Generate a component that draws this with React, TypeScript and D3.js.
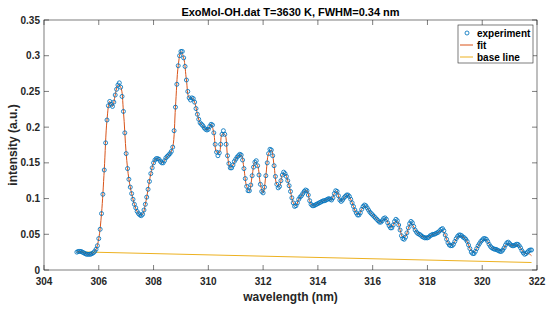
import React, { useEffect, useRef } from 'react';
import * as d3 from 'd3';

// experiment: 0.05 nm steps from 305.2 to 321.8 nm
const expStart = 305.2;
const expStep = 0.05;
const experiment = [
  0.025, 0.026, 0.026, 0.026, 0.025, 0.024, 0.023, 0.022, 0.022, 0.022,
  0.022, 0.023, 0.024, 0.026, 0.029, 0.034, 0.044, 0.057, 0.079, 0.106,
  0.140, 0.178, 0.210, 0.230, 0.236, 0.232, 0.229, 0.235, 0.245, 0.253,
  0.259, 0.262, 0.256, 0.243, 0.222, 0.192, 0.163, 0.142, 0.127, 0.116,
  0.107, 0.099, 0.092, 0.087, 0.082, 0.079, 0.077, 0.076, 0.078, 0.084,
  0.092, 0.102, 0.113, 0.124, 0.135, 0.143, 0.150, 0.154, 0.156, 0.156,
  0.155, 0.152, 0.150, 0.150, 0.153, 0.157, 0.159, 0.161, 0.163, 0.166,
  0.172, 0.195, 0.228, 0.260, 0.286, 0.300, 0.306, 0.306, 0.297, 0.285,
  0.266, 0.250, 0.241, 0.238, 0.241, 0.240, 0.235, 0.226, 0.218, 0.211,
  0.206, 0.204, 0.202, 0.199, 0.197, 0.196, 0.197, 0.201, 0.204, 0.203,
  0.192, 0.176, 0.165, 0.160, 0.164, 0.176, 0.190, 0.195, 0.190, 0.176,
  0.160, 0.149, 0.143, 0.143, 0.147, 0.152, 0.155, 0.158, 0.160, 0.162,
  0.161, 0.154, 0.142, 0.128, 0.117, 0.111, 0.111, 0.119, 0.132, 0.144,
  0.151, 0.153, 0.146, 0.133, 0.120, 0.110, 0.108, 0.116, 0.132, 0.150,
  0.163, 0.169, 0.168, 0.160, 0.146, 0.131, 0.120, 0.115, 0.117, 0.125,
  0.133, 0.137, 0.135, 0.131, 0.125, 0.118, 0.110, 0.101, 0.094, 0.089,
  0.090, 0.094, 0.099, 0.102, 0.104, 0.107, 0.110, 0.112, 0.111, 0.105,
  0.097, 0.092, 0.090, 0.090, 0.091, 0.092, 0.093, 0.094, 0.095, 0.096,
  0.097, 0.097, 0.098, 0.099, 0.100, 0.099, 0.098, 0.101, 0.107, 0.111,
  0.110, 0.104, 0.098, 0.096, 0.098, 0.101, 0.103, 0.105, 0.105, 0.103,
  0.099, 0.094, 0.089, 0.084, 0.080, 0.077, 0.077, 0.080, 0.085, 0.089,
  0.091, 0.090, 0.087, 0.084, 0.081, 0.079, 0.077, 0.075, 0.073, 0.071,
  0.069, 0.067, 0.067, 0.069, 0.072, 0.073, 0.071, 0.066, 0.062, 0.059,
  0.059, 0.063, 0.068, 0.071, 0.069, 0.063, 0.056, 0.048, 0.044, 0.043,
  0.046, 0.052, 0.059, 0.065, 0.068, 0.066, 0.061, 0.056, 0.053, 0.051,
  0.050, 0.049, 0.047, 0.046, 0.045, 0.045, 0.045, 0.046, 0.048, 0.049,
  0.050, 0.050, 0.051, 0.052, 0.053, 0.055, 0.057, 0.058, 0.055, 0.049,
  0.043, 0.038, 0.035, 0.034, 0.034, 0.036, 0.040, 0.044, 0.047, 0.049,
  0.049, 0.048, 0.046, 0.045, 0.043, 0.040, 0.035, 0.030, 0.025, 0.023,
  0.023, 0.026, 0.030, 0.034, 0.037, 0.040, 0.042, 0.044, 0.044, 0.043,
  0.040, 0.036, 0.033, 0.031, 0.030, 0.029, 0.029, 0.028, 0.027, 0.026,
  0.026, 0.028, 0.031, 0.035, 0.038, 0.039, 0.037, 0.035, 0.034, 0.034,
  0.035, 0.036, 0.036, 0.034, 0.031, 0.027, 0.024, 0.022, 0.023, 0.025,
  0.027, 0.028, 0.028,
];

// fit: 0.1 nm steps from 305.2 to 321.8 nm
const fitStart = 305.2;
const fitStep = 0.1;
const fit = [
  0.025, 0.026, 0.025, 0.023, 0.022, 0.022, 0.024, 0.029, 0.044, 0.079,
  0.140, 0.210, 0.236, 0.229, 0.245, 0.259, 0.256, 0.222, 0.163, 0.127,
  0.107, 0.092, 0.082, 0.077, 0.078, 0.092, 0.113, 0.135, 0.150, 0.156,
  0.155, 0.150, 0.153, 0.159, 0.163, 0.172, 0.228, 0.286, 0.306, 0.297,
  0.266, 0.241, 0.241, 0.235, 0.218, 0.206, 0.202, 0.197, 0.197, 0.204,
  0.192, 0.165, 0.164, 0.190, 0.190, 0.160, 0.143, 0.147, 0.155, 0.160,
  0.161, 0.142, 0.117, 0.111, 0.132, 0.151, 0.146, 0.120, 0.108, 0.132,
  0.163, 0.168, 0.146, 0.120, 0.117, 0.133, 0.135, 0.125, 0.110, 0.094,
  0.090, 0.099, 0.104, 0.110, 0.111, 0.097, 0.090, 0.091, 0.093, 0.095,
  0.097, 0.098, 0.100, 0.098, 0.107, 0.110, 0.098, 0.098, 0.103, 0.105,
  0.099, 0.089, 0.080, 0.078, 0.085, 0.090, 0.087, 0.081, 0.077, 0.073,
  0.069, 0.067, 0.071, 0.071, 0.062, 0.060, 0.067, 0.068, 0.056, 0.046,
  0.047, 0.058, 0.066, 0.060, 0.053, 0.050, 0.047, 0.046, 0.046, 0.048,
  0.050, 0.051, 0.053, 0.055, 0.053, 0.043, 0.036, 0.035, 0.040, 0.046,
  0.048, 0.046, 0.043, 0.035, 0.027, 0.025, 0.030, 0.037, 0.041, 0.043,
  0.040, 0.033, 0.030, 0.029, 0.028, 0.027, 0.031, 0.036, 0.036, 0.034,
  0.035, 0.035, 0.031, 0.025, 0.023, 0.023, 0.020,
];

const baseLine = [0.0255, 0.0105]; // at 305.2 and 321.8 nm

const xTicks = [304, 306, 308, 310, 312, 314, 316, 318, 320, 322];
const yTicks = [0, 0.05, 0.1, 0.15, 0.2, 0.25, 0.3, 0.35];
const legendLabels = ['experiment', 'fit', 'base line'];

const FONT = '"Liberation Sans", Arial, Helvetica, sans-serif';
const AXIS = '#262626';
const BLUE = '#0072BD';
const ORANGE = '#D95319';
const YELLOW = '#EDB120';

const App = () => {
  const ref = useRef<SVGSVGElement>(null);

  useEffect(() => {
    const svg = d3.select(ref.current);
    svg.selectAll('*').remove();

    const margin = { top: 20, right: 13, bottom: 39, left: 44 };
    const width = 550 - margin.left - margin.right;
    const height = 309 - margin.top - margin.bottom;

    const expWl = (i: number) => expStart + i * expStep;
    const fitWl = (i: number) => fitStart + i * fitStep;

    const x = d3.scaleLinear().domain([304, 322]).range([0, width]);
    const y = d3.scaleLinear().domain([0, 0.35]).range([height, 0]);

    const g = svg.append('g').attr('transform', `translate(${margin.left},${margin.top})`);

    // base line
    g.append('line')
      .attr('x1', x(fitWl(0))).attr('y1', y(baseLine[0]))
      .attr('x2', x(fitWl(fit.length - 1))).attr('y2', y(baseLine[1]))
      .attr('stroke', YELLOW).attr('stroke-width', 1);

    // fit
    const line = d3.line<number>()
      .x((_, i) => x(fitWl(i)))
      .y(d => y(d))
      .curve(d3.curveCatmullRom);
    g.append('path')
      .datum(fit)
      .attr('d', line)
      .attr('fill', 'none')
      .attr('stroke', ORANGE)
      .attr('stroke-width', 1);

    // experiment markers
    g.selectAll('.pt')
      .data(experiment)
      .enter().append('circle')
      .attr('class', 'pt')
      .attr('cx', (_, i) => x(expWl(i)))
      .attr('cy', d => y(d))
      .attr('r', 2)
      .attr('fill', 'none')
      .attr('stroke', BLUE)
      .attr('stroke-width', 0.85);

    // box
    g.append('rect')
      .attr('width', width).attr('height', height)
      .attr('fill', 'none').attr('stroke', AXIS).attr('stroke-width', 0.6);

    const tickLen = 5;
    xTicks.forEach(t => {
      g.append('line').attr('x1', x(t)).attr('x2', x(t)).attr('y1', height).attr('y2', height - tickLen)
        .attr('stroke', AXIS).attr('stroke-width', 0.6);
      g.append('line').attr('x1', x(t)).attr('x2', x(t)).attr('y1', 0).attr('y2', tickLen)
        .attr('stroke', AXIS).attr('stroke-width', 0.6);
      g.append('text').attr('x', x(t)).attr('y', height + 15)
        .attr('text-anchor', 'middle').attr('font-family', FONT).attr('font-size', 10)
        .attr('font-weight', 'bold').attr('fill', AXIS).text(t);
    });
    yTicks.forEach(t => {
      g.append('line').attr('x1', 0).attr('x2', tickLen).attr('y1', y(t)).attr('y2', y(t))
        .attr('stroke', AXIS).attr('stroke-width', 0.6);
      g.append('line').attr('x1', width).attr('x2', width - tickLen).attr('y1', y(t)).attr('y2', y(t))
        .attr('stroke', AXIS).attr('stroke-width', 0.6);
      g.append('text').attr('x', -4).attr('y', y(t)).attr('dy', '0.35em')
        .attr('text-anchor', 'end').attr('font-family', FONT).attr('font-size', 10)
        .attr('font-weight', 'bold').attr('fill', AXIS).text(d3.format('~g')(t));
    });

    // title and axis labels
    svg.append('text').attr('x', margin.left + width / 2).attr('y', 16)
      .attr('text-anchor', 'middle').attr('font-family', FONT).attr('font-size', 11)
      .attr('font-weight', 'bold').attr('fill', '#000')
      .text('ExoMol-OH.dat T=3630 K, FWHM=0.34 nm');
    svg.append('text').attr('x', margin.left + width / 2).attr('y', 301)
      .attr('text-anchor', 'middle').attr('font-family', FONT).attr('font-size', 12)
      .attr('font-weight', 'bold').attr('fill', AXIS).text('wavelength (nm)');
    svg.append('text').attr('transform', `translate(17,${margin.top + height / 2}) rotate(-90)`)
      .attr('text-anchor', 'middle').attr('font-family', FONT).attr('font-size', 12)
      .attr('font-weight', 'bold').attr('fill', AXIS).text('intensity (a.u.)');

    // legend
    const lg = svg.append('g').attr('transform', 'translate(458,25)');
    lg.append('rect').attr('width', 75).attr('height', 38)
      .attr('fill', '#fff').attr('stroke', AXIS).attr('stroke-width', 0.6);
    const colors = [BLUE, ORANGE, YELLOW];
    legendLabels.forEach((label, i) => {
      const cy = 8 + i * 12;
      if (i === 0) {
        lg.append('circle').attr('cx', 9).attr('cy', cy).attr('r', 2)
          .attr('fill', 'none').attr('stroke', BLUE).attr('stroke-width', 0.85);
      } else {
        lg.append('line').attr('x1', 2).attr('x2', 15).attr('y1', cy).attr('y2', cy)
          .attr('stroke', colors[i]).attr('stroke-width', 1);
      }
      lg.append('text').attr('x', 19).attr('y', cy).attr('dy', '0.35em')
        .attr('font-family', FONT).attr('font-size', 10).attr('font-weight', 'bold')
        .attr('fill', '#000').text(label);
    });
  }, []);

  return (
    <svg ref={ref} width={550} height={309}
      style={{ position: 'absolute', left: 0, top: 0, background: '#fff' }} />
  );
};

export default App;
